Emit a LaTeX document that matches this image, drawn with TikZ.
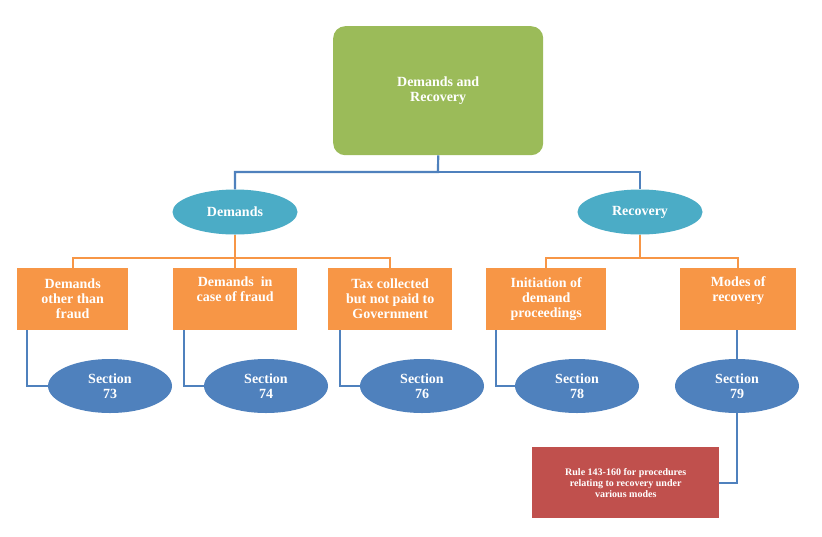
\documentclass[tikz,border=0pt]{standalone}
\usepackage{fontspec}
\setmainfont{Liberation Serif}
\usetikzlibrary{shapes.geometric}
\definecolor{gr}{HTML}{9BBB59}
\definecolor{aq}{HTML}{4BACC6}
\definecolor{or}{HTML}{F79646}
\definecolor{bl}{HTML}{4F81BD}
\definecolor{rd}{HTML}{C0504D}
\begin{document}
\begin{tikzpicture}[x=1pt,y=-1pt,
 txt/.style={text=white,font=\fontsize{14}{15}\selectfont\bfseries,align=center,inner sep=0},
 ob/.style={txt,fill=or,minimum height=62,anchor=north west},
 se/.style={txt,ellipse,fill=bl,minimum width=124,minimum height=54},
 ae/.style={txt,ellipse,fill=aq,minimum width=125,minimum height=45},
 bc/.style={draw=bl,line width=2.2},
 oc/.style={draw=or,line width=2.2}]
\useasboundingbox[fill=white] (0,0) rectangle (822,536);
\node[txt,fill=gr,rounded corners=12,minimum width=210,minimum height=129,anchor=north west] (top) at (333,26) {Demands and\\Recovery};
\node[ae] (dem) at (235,212) {Demands};
\node[ae] (rec) at (640,212) {Recovery};
\node[ob,minimum width=111] (b1) at (17,268) {Demands\\other than\\fraud};
\node[ob,minimum width=124] (b2) at (173,268) {Demands\ \ in\\case of fraud\\\strut};
\node[ob,minimum width=124] (b3) at (328,268) {Tax collected\\but not paid to\\Government};
\node[ob,minimum width=120] (b4) at (486,268) {Initiation of\\demand\\proceedings};
\node[ob,minimum width=116] (b5) at (680,268) {Modes of\\recovery\\\strut};
\node[se] (s1) at (110,386) {Section\\73};
\node[se] (s2) at (266,386) {Section\\74};
\node[se] (s3) at (422,386) {Section\\76};
\node[se] (s4) at (577,386) {Section\\78};
\node[se] (s5) at (737,386) {Section\\79};
\node[txt,fill=rd,font=\fontsize{10}{11}\selectfont\bfseries,minimum width=187,minimum height=71,anchor=north west] (r) at (532,447) {Rule 143-160 for procedures\\relating to recovery under\\various modes};
\coordinate (j) at (438,172);
\draw[bc] (top.south) -- (j) -| (dem.north);
\draw[bc] (j) -| (rec.north);
\draw[oc] (dem.south) -- (235,258) -| (b1.north);
\draw[oc] (235,258) -| (b2.north);
\draw[oc] (235,258) -| (b3.north);
\draw[oc] (rec.south) -- (640,258) -| (b4.north);
\draw[oc] (640,258) -| (b5.north);
\draw[bc] (b1.south west) ++(10,0) |- (s1.west);
\draw[bc] (b2.south west) ++(11,0) |- (s2.west);
\draw[bc] (b3.south west) ++(12,0) |- (s3.west);
\draw[bc] (b4.south west) ++(10,0) |- (s4.west);
\draw[bc] (b5.south -| s5) -- (s5.north);
\draw[bc] (s5.south) |- (r.east);
\end{tikzpicture}
\end{document}
